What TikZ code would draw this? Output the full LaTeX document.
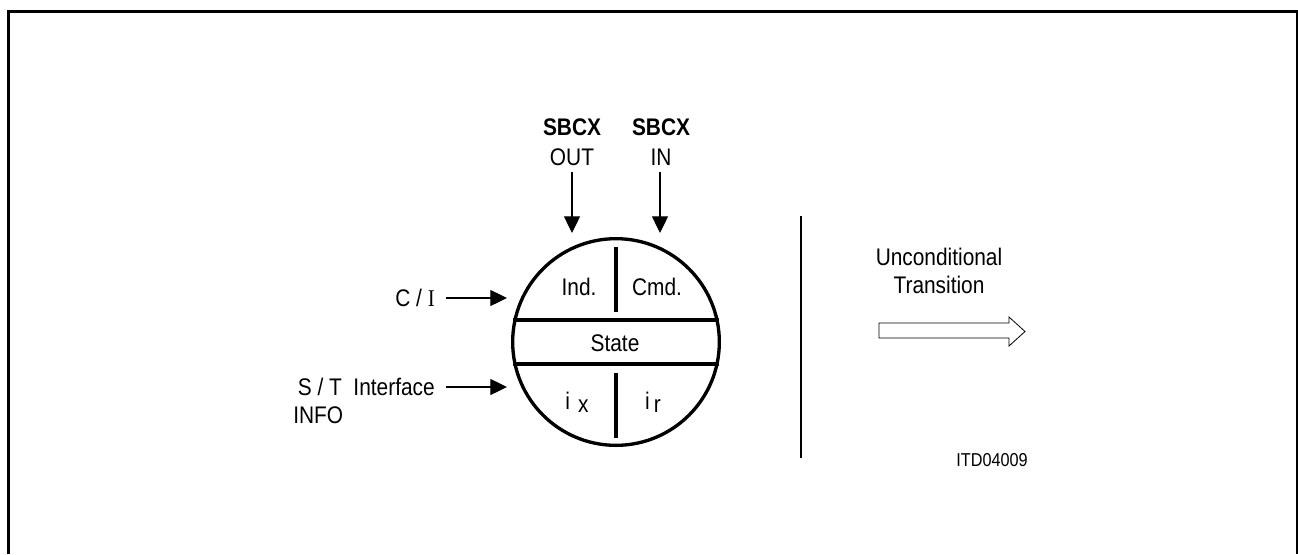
\documentclass[tikz,border=0pt]{standalone}
\usepackage{fontspec}
\setmainfont{Liberation Sans}[FakeStretch=0.87]
\newfontfamily\serifI{Liberation Serif}[FakeStretch=0.87]
\usetikzlibrary{arrows.meta}
\tikzset{
  lbl/.style={inner sep=0pt, font=\fontsize{18}{21}\selectfont},
  toplbl/.style={inner sep=0pt, align=center, font=\fontsize{18}{22.5}\selectfont},
  arr/.style={line width=0.9pt, -{Triangle[length=12.5pt,width=12pt]}},
  thick line/.style={line width=2.5pt},
}
\begin{document}
\begin{tikzpicture}[x=0.75pt,y=-0.75pt]
\useasboundingbox (0,0) rectangle (1298,554);
% frame
\draw[line width=2.25pt] (8,554) -- (8,11) -- (1297.5,11) -- (1297.5,554);

% circle
\node[circle, draw, line width=2.5pt, minimum size=155pt, inner sep=0pt] (c) at (616,342) {};
\draw[thick line] (513.3,320) -- (718.7,320);
\draw[thick line] (513.3,364) -- (718.7,364);
\draw[thick line] (616,247) -- (616,312);
\draw[thick line] (616,373) -- (616,438);

% inner labels
\node[lbl] (ind) at (579,287) {Ind.};
\node[lbl] (cmd) at (657,287) {Cmd.};
\node[lbl] (state) at (615,343) {State};
\node[lbl] (ix) at (577,402) {i\hspace{6pt}\raisebox{-2.5pt}{x}};
\node[lbl] (ir) at (653,402) {i\hspace{3pt}\raisebox{-2.5pt}{r}};

% top labels and arrows
\node[toplbl] (sbcxout) at (572,142) {\textbf{SBCX}\\OUT};
\node[toplbl] (sbcxin) at (661,142) {\textbf{SBCX}\\IN};
\coordinate (outtip) at (572,233);
\coordinate (intip) at (660,233);
\draw[arr, shorten <=4.5pt] (sbcxout.south -| outtip) -- (outtip);
\draw[arr, shorten <=4.5pt] (sbcxin.south -| intip) -- (intip);

% left labels and arrows
\node[lbl, anchor=east] (ci) at (435,298) {C / {\serifI I}};
\coordinate (citip) at (507,298);
\draw[arr, shorten <=8pt] (ci) -- (citip);
\node[lbl, anchor=east] (st) at (435,387) {S / T\ \ Interface};
\node[lbl, anchor=west] (info) at (293,415) {INFO};
\coordinate (sttip) at (507,387);
\draw[arr, shorten <=8pt] (st) -- (sttip);

% separator
\coordinate (sepa) at (801,216);
\coordinate (sepb) at (801,458);
\draw[line width=1pt] (sepa) -- (sepb);

% legend
\node[lbl, align=center] (uncond) at (939,271) {Unconditional\\Transition};
\draw[line width=0.6pt] (879,323) -- (1009,323) -- (1009,317) -- (1025,331.5) -- (1009,346) -- (1009,338) -- (879,338) -- cycle;
\node[inner sep=0pt, font=\fontsize{14}{16}\selectfont] (itd) at (992,460) {ITD04009};
\end{tikzpicture}
\end{document}
